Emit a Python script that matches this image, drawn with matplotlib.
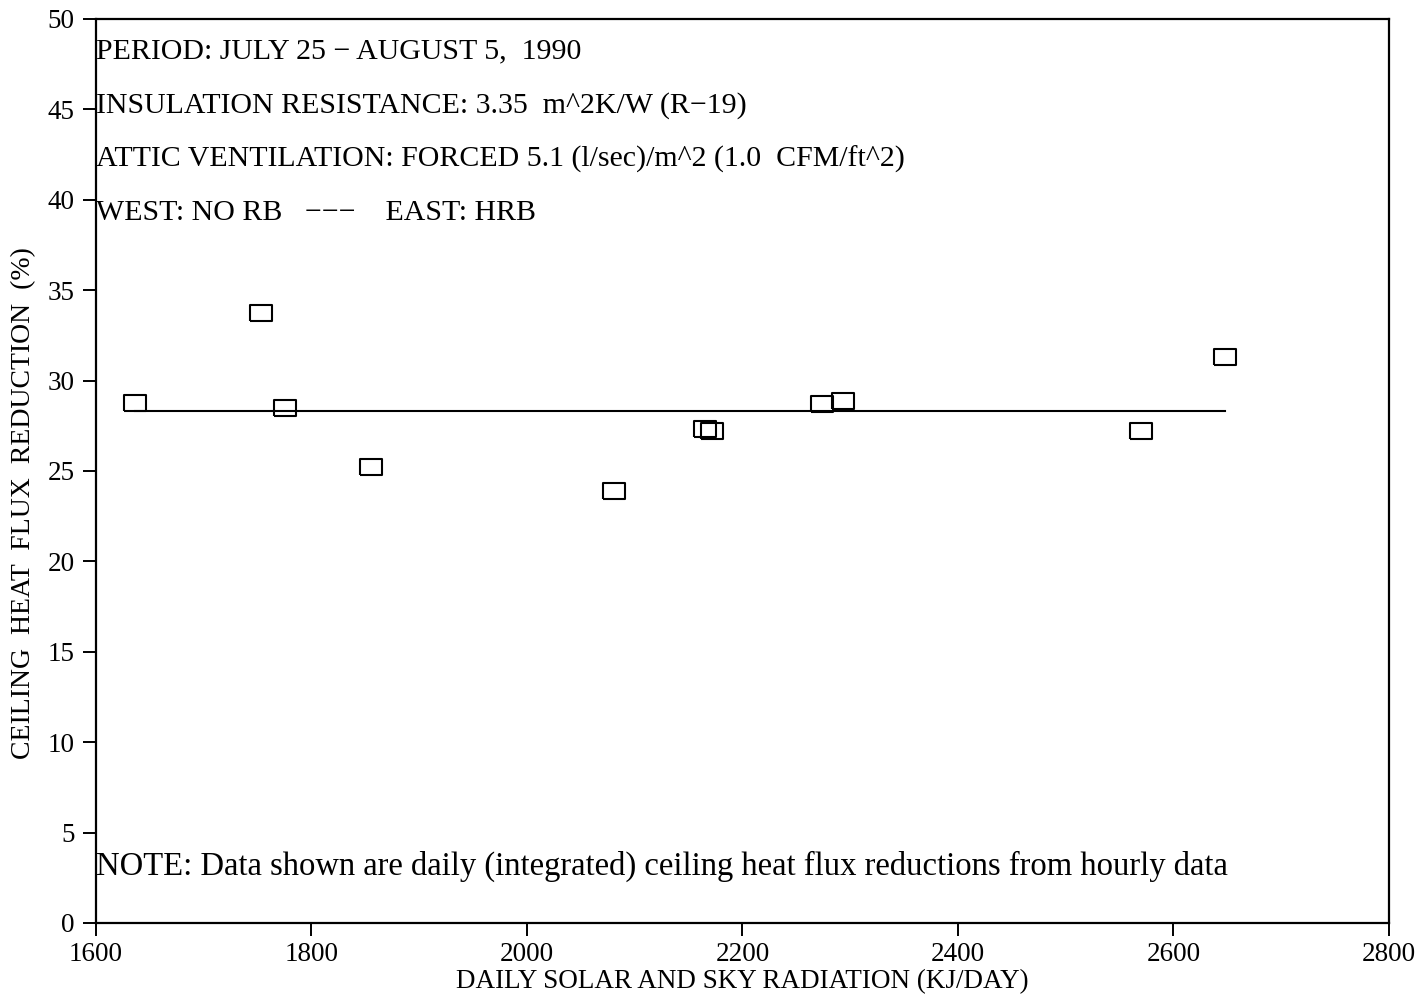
import matplotlib
matplotlib.use("Agg")
import matplotlib.pyplot as plt

# Daily solar+sky radiation (kJ/day) and ceiling heat flux reduction (%)
radiation = [1636, 1753, 1775, 1855, 2081, 2165, 2172, 2274, 2293, 2570, 2648]
reduction = [28.76, 33.73, 28.51, 25.21, 23.92, 27.30, 27.20, 28.68, 28.88, 27.22, 31.32]
mean_reduction = 28.3

x_ticks = [1600, 1800, 2000, 2200, 2400, 2600, 2800]
y_ticks = [0, 5, 10, 15, 20, 25, 30, 35, 40, 45, 50]

header_lines = [
    "PERIOD: JULY 25 \u2212 AUGUST 5,  1990",
    "INSULATION RESISTANCE: 3.35  m^2K/W (R\u221219)",
    "ATTIC VENTILATION: FORCED 5.1 (l/sec)/m^2 (1.0  CFM/ft^2)",
    "WEST: NO RB   \u2212\u2212\u2212    EAST: HRB",
]
note = "NOTE: Data shown are daily (integrated) ceiling heat flux reductions from hourly data"

plt.rcParams["font.family"] = ["Liberation Serif", "DejaVu Serif"]

fig = plt.figure(figsize=(14.24, 10.05), dpi=100)
ax = fig.add_axes([0.0674, 0.0816, 0.9080, 0.8995])

# open rectangular markers, a little wider than tall
rect = [(-1, -0.72), (1, -0.72), (1, 0.72), (-1, 0.72), (-1, -0.72)]
ax.plot(radiation, reduction, linestyle="none", marker=rect, markersize=16,
        markerfacecolor="none", markeredgecolor="black", markeredgewidth=1.5)

ax.plot([min(radiation), max(radiation)], [mean_reduction, mean_reduction],
        color="black", linewidth=1.5)

ax.set_xlim(1600, 2800)
ax.set_ylim(0, 50)
ax.set_xticks(x_ticks)
ax.set_yticks(y_ticks)
ax.tick_params(direction="out", length=9.5, width=1.4, labelsize=19.5)
ax.tick_params(axis="x", pad=4)
ax.tick_params(axis="y", pad=6)
for s in ax.spines.values():
    s.set_linewidth(1.6)

ax.set_xlabel("DAILY SOLAR AND SKY RADIATION (KJ/DAY)", fontsize=19.5)
ax.xaxis.set_label_coords(0.5, -0.051)
ax.set_ylabel("CEILING  HEAT  FLUX  REDUCTION  (%)", fontsize=20)
ax.yaxis.set_label_coords(-0.046, 0.464)

baselines = [0.9569, 0.896, 0.8363, 0.7777]
for txt, yy in zip(header_lines, baselines):
    ax.text(0.0, yy, txt, transform=ax.transAxes, fontsize=21.5,
            ha="left", va="baseline")
ax.text(0.0, 0.0531, note, transform=ax.transAxes, fontsize=23.5,
        ha="left", va="baseline")

fig.savefig("out.png", dpi=100)
